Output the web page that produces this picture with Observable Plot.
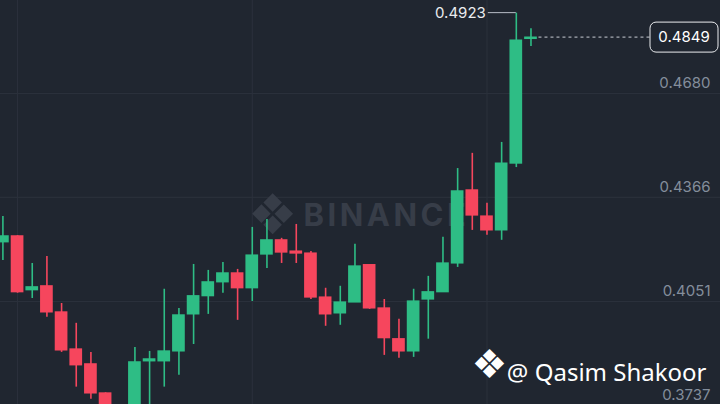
<!DOCTYPE html>
<html><head><meta charset="utf-8">
<script src="https://cdn.jsdelivr.net/npm/d3@7"></script>
<script src="https://cdn.jsdelivr.net/npm/@observablehq/plot@0.6"></script>
<style>
html,body{margin:0;padding:0;background:#202630;}
#chart{width:720px;height:404px;overflow:hidden;}
</style></head><body><div id="chart"></div>
<script>
const opens  = [0.4230,0.4248,0.4085,0.4097,0.4018,0.3906,0.3861,0.3773,0.3718,0.3702,0.3870,0.3870,0.3900,0.4012,0.4067,0.4109,0.4136,0.4091,0.4193,0.4236,0.4202,0.4196,0.4063,0.4015,0.4048,0.4161,0.4030,0.3937,0.3900,0.4057,0.4079,0.4166,0.4387,0.4308,0.4266,0.4468,0.4845];
const highs  = [0.4308,0.4250,0.4166,0.4187,0.4045,0.3985,0.3897,0.3775,0.3732,0.3912,0.3900,0.4088,0.4030,0.4163,0.4145,0.4169,0.4148,0.4275,0.4299,0.4242,0.4284,0.4202,0.4091,0.4097,0.4224,0.4161,0.4057,0.3997,0.4088,0.4127,0.4245,0.4453,0.4499,0.4348,0.4532,0.4923,0.4876];
const lows   = [0.4175,0.4076,0.4060,0.4003,0.3897,0.3792,0.3755,0.3700,0.3680,0.3695,0.3720,0.3792,0.3828,0.3921,0.4012,0.4076,0.3994,0.4051,0.4151,0.4166,0.4166,0.4057,0.3976,0.3979,0.4048,0.4027,0.3888,0.3879,0.3882,0.3937,0.4079,0.4154,0.4266,0.4251,0.4236,0.4456,0.4822];
const closes = [0.4248,0.4079,0.4094,0.4018,0.3903,0.3858,0.3773,0.3718,0.3702,0.3867,0.3876,0.3900,0.4009,0.4067,0.4109,0.4136,0.4091,0.4190,0.4236,0.4199,0.4196,0.4063,0.4012,0.4048,0.4157,0.4030,0.3940,0.3900,0.4051,0.4079,0.4166,0.4384,0.4311,0.4266,0.4468,0.4840,0.4849];
const priceTicks = [0.3737, 0.4051, 0.4366, 0.4680];
const timeGrid = [1, 17, 33];
const watermark = "BINANCE";
const credit = "@ Qasim Shakoor";
const logo = "\u2756";

const candles = opens.map((o, i) => ({i, open: o, high: highs[i], low: lows[i], close: closes[i]}));
const UP = "#2ebd85", DOWN = "#f6465d", BG = "#202630", GRID = "#2b313c";
const col = d => d.close >= d.open ? UP : DOWN;

const chart = Plot.plot({
  width: 720, height: 404, margin: 0,
  style: {background: BG, fontFamily: "Inter, 'Noto Sans', sans-serif"},
  x: {domain: [-0.164, 48.92], axis: null},
  y: {domain: [0.37395, 0.49612], axis: null},
  color: {type: "identity"},
  marks: [
    Plot.ruleY(priceTicks, {stroke: GRID, strokeWidth: 1}),
    Plot.ruleX(timeGrid, {stroke: GRID, strokeWidth: 1}),
    Plot.text([logo], {frameAnchor: "middle", dx: -88, dy: 14, fontSize: 56, fill: "#373d48", fontFamily: "DejaVu Sans"}),
    Plot.text([watermark], {frameAnchor: "middle", textAnchor: "start", dx: -57, dy: 14, fontSize: 31, fontWeight: "bold", fill: "#373d48"}),
    Plot.ruleX(candles, {x: "i", y1: "low", y2: "high", stroke: col, strokeWidth: 1.6, clip: true}),
    Plot.rect(candles, {x1: d => d.i - 0.433, x2: d => d.i + 0.433, y1: "open", y2: "close", fill: col, insetTop: -0.6, insetBottom: -0.6, clip: true}),
    Plot.text(priceTicks, {y: d => d, frameAnchor: "right", textAnchor: "end", dx: -10, dy: -10, text: d => d.toFixed(4), fill: "#848e9c", fontSize: 15}),
    Plot.text([logo], {frameAnchor: "bottom-right", textAnchor: "middle", dx: -231, dy: -27, fontSize: 40, fill: "#ffffff", fontFamily: "DejaVu Sans"}),
    Plot.text([credit], {frameAnchor: "bottom-right", textAnchor: "end", dx: -14, dy: -24, fontSize: 24, fill: "#ffffff", fontFamily: "'Noto Sans', sans-serif"})
  ]
});
document.getElementById("chart").append(chart);

const svg = d3.select(chart);
svg.selectAll("text").filter(function() { return this.textContent === watermark; })
  .attr("letter-spacing", "3.5px");

const sx = chart.scale("x"), sy = chart.scale("y");
const g = svg.append("g").attr("font-family", "Inter, 'Noto Sans', sans-serif");

// session high annotation
let hi = 0; candles.forEach((d, i) => { if (d.high > candles[hi].high) hi = i; });
const hx = sx.apply(hi), hy = sy.apply(candles[hi].high);
g.append("line").attr("x1", hx - 28).attr("x2", hx).attr("y1", hy).attr("y2", hy)
  .attr("stroke", "#b7bdc6").attr("stroke-width", 1);
g.append("text").attr("x", hx - 30).attr("y", hy).attr("dy", "0.35em").attr("text-anchor", "end")
  .attr("fill", "#eaecef").attr("font-size", 15).text(candles[hi].high.toFixed(4));

// last price marker
const last = candles[candles.length - 1];
const ly = sy.apply(last.close), lx = sx.apply(last.i);
const bw = 68, bh = 30, bx = 720 - bw - 2;
g.append("line").attr("x1", lx + 8).attr("x2", bx).attr("y1", ly).attr("y2", ly)
  .attr("stroke", "#c9ced6").attr("stroke-width", 1).attr("stroke-dasharray", "3,3");
g.append("rect").attr("x", bx).attr("y", ly - bh / 2).attr("width", bw).attr("height", bh).attr("rx", 6)
  .attr("fill", BG).attr("stroke", "#eaecef").attr("stroke-width", 1);
g.append("text").attr("x", bx + bw / 2).attr("y", ly).attr("dy", "0.35em").attr("text-anchor", "middle")
  .attr("fill", "#ffffff").attr("font-size", 15).text(last.close.toFixed(4));
</script></body></html>
